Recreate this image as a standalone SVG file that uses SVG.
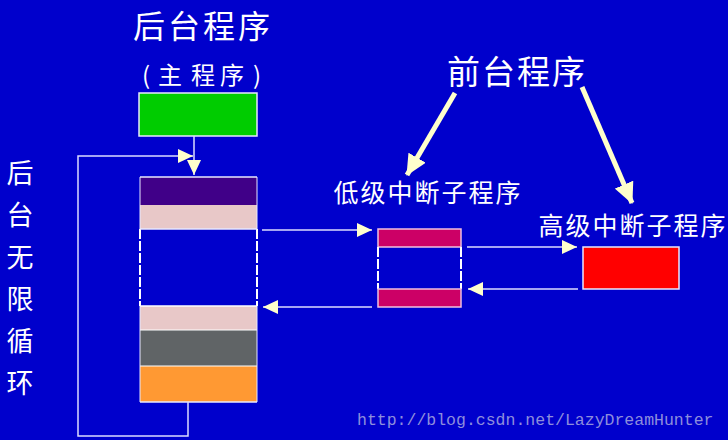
<svg xmlns="http://www.w3.org/2000/svg" width="728" height="440" viewBox="0 0 728 440">
<style>
.cn{font-family:"Noto Sans CJK SC","Noto Sans CJK JP",sans-serif;fill:#ffffff;}
.box{stroke:#e8e8ff;stroke-width:1.5;}
.ln{stroke:#dcdcff;stroke-width:1.5;fill:none;}
.dash{stroke:#ffffff;stroke-width:2;stroke-dasharray:10 2;fill:none;}
.thick{stroke:#ffffcc;stroke-width:5;fill:none;}
</style>
<defs>
<marker id="ah" markerUnits="userSpaceOnUse" markerWidth="16" markerHeight="14" refX="15" refY="7" orient="auto">
<path d="M0,0 L15,7 L0,14 Z" fill="#ffffcc"/>
</marker>
<marker id="ahb" markerUnits="userSpaceOnUse" markerWidth="22" markerHeight="20" refX="20" refY="10" orient="auto">
<path d="M0,0 L21,10 L0,20 Z" fill="#ffffcc"/>
</marker>
</defs>
<rect x="0" y="0" width="728" height="440" fill="#0000cc"/>

<g id="title-bg"><text class="cn" x="203" y="37.5" font-size="32" letter-spacing="3" text-anchor="middle">后台程序</text></g>
<g id="title-main"><text class="cn" font-size="24" y="84"><tspan x="142">(</tspan><tspan x="158">主</tspan><tspan x="191">程</tspan><tspan x="220">序</tspan><tspan x="253">)</tspan></text></g>
<g id="title-fg"><text class="cn" x="517" y="84" font-size="33" letter-spacing="2" text-anchor="middle">前台程序</text></g>
<g id="label-loop">
<text class="cn" font-size="27" x="20" text-anchor="middle"><tspan x="20" y="183">后</tspan><tspan x="20" y="225">台</tspan><tspan x="20" y="267">无</tspan><tspan x="20" y="309">限</tspan><tspan x="20" y="351">循</tspan><tspan x="20" y="393">环</tspan></text>
</g>

<g id="green"><rect class="box" x="139" y="93" width="118" height="43" fill="#00cc00"/></g>

<g id="main-stack">
<rect x="140" y="177" width="117" height="28" fill="#400088"/>
<rect x="140" y="205" width="117" height="24" fill="#e8c8c8"/>
<line class="dash" x1="140" y1="229" x2="140" y2="306"/>
<line class="dash" x1="257" y1="229" x2="257" y2="306"/>
<rect x="140" y="306" width="117" height="24" fill="#e8c8c8"/>
<rect x="140" y="330" width="117" height="36" fill="#606466"/>
<rect x="140" y="366" width="117" height="36" fill="#ff9933"/>
<line x1="140" y1="177" x2="257" y2="177" stroke="#e8e8ff" stroke-width="1.5"/>
<line x1="140" y1="229" x2="257" y2="229" stroke="#e8e8ff" stroke-width="1.5"/>
<line x1="140" y1="306" x2="257" y2="306" stroke="#ffffff" stroke-width="1.5"/>
<line x1="140" y1="330" x2="257" y2="330" stroke="#ffffff" stroke-width="1"/>
<line x1="140" y1="366" x2="257" y2="366" stroke="#ffffff" stroke-width="1"/>
<line x1="140" y1="402" x2="257" y2="402" stroke="#e8e8ff" stroke-width="1.5"/>
<line x1="140" y1="177" x2="140" y2="229" stroke="#e8e8ff" stroke-width="1"/>
<line x1="257" y1="177" x2="257" y2="229" stroke="#e8e8ff" stroke-width="1"/>
<line x1="140" y1="306" x2="140" y2="402" stroke="#e8e8ff" stroke-width="1"/>
<line x1="257" y1="306" x2="257" y2="402" stroke="#e8e8ff" stroke-width="1"/>
</g>

<g id="low-isr">
<text class="cn" x="428" y="202" font-size="25" letter-spacing="2" text-anchor="middle">低级中断子程序</text>
<rect x="378" y="229" width="83" height="18" fill="#cc0066" stroke="#f0c0e0" stroke-width="1.5"/>
<line class="dash" x1="378" y1="247" x2="378" y2="289"/>
<line class="dash" x1="461" y1="247" x2="461" y2="289"/>
<rect x="378" y="289" width="83" height="18" fill="#cc0066" stroke="#f0c0e0" stroke-width="1.5"/>
</g>

<g id="high-isr">
<text class="cn" x="633" y="235" font-size="25" letter-spacing="2" text-anchor="middle">高级中断子程序</text>
<rect class="box" x="583" y="247" width="96" height="42" fill="#ff0000"/>
</g>

<g id="watermark">
<text x="357" y="425" font-family="Liberation Mono, monospace" font-size="16.5" fill="#8e8edc">http://blog.csdn.net/LazyDreamHunter</text>
</g>

<g id="connectors">
<line class="ln" x1="194" y1="136" x2="194" y2="175" marker-end="url(#ah)"/>
<polyline class="ln" points="188,402 188,436 78,436 78,156 193,156" marker-end="url(#ah)"/>
<line class="ln" x1="262" y1="230" x2="372" y2="230" marker-end="url(#ah)"/>
<line class="ln" x1="372" y1="307" x2="263" y2="307" marker-end="url(#ah)"/>
<line class="ln" x1="467" y1="247" x2="577" y2="247" marker-end="url(#ah)"/>
<line class="ln" x1="578" y1="289" x2="468" y2="289" marker-end="url(#ah)"/>
<line class="thick" x1="455" y1="93" x2="407" y2="175" marker-end="url(#ahb)"/>
<line class="thick" x1="582" y1="87" x2="632" y2="203" marker-end="url(#ahb)"/>
</g>
</svg>
